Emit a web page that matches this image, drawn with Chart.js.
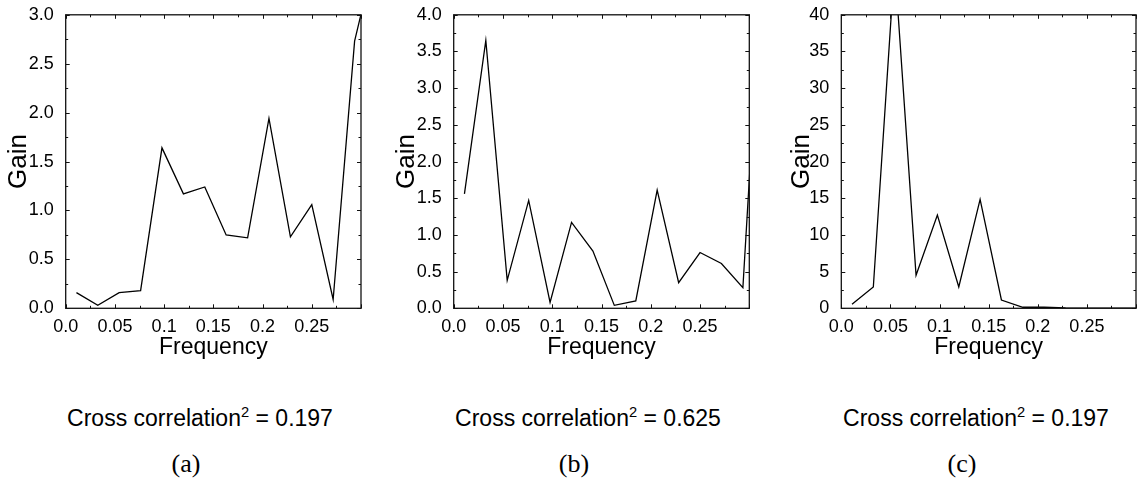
<!DOCTYPE html>
<html>
<head>
<meta charset="utf-8">
<title>Gain spectra</title>
<script src="https://cdn.jsdelivr.net/npm/chart.js@4.4.1/dist/chart.umd.min.js"></script>
<style>
  html, body { margin: 0; padding: 0; background: #fff; overflow: hidden; }
  #fig { position: relative; width: 1144px; height: 483px; }
  .panel { position: absolute; top: 0; }
  .caption {
    position: absolute; top: 407px; color: #000; white-space: nowrap;
    font: 23px/23px "Liberation Sans", Arial, sans-serif;
    transform: translateX(-50%);
  }
  .caption .sq { position: relative; top: -0.6em; font-size: 0.64em; }
  .sublabel {
    position: absolute; top: 451px; color: #000;
    font: 26px/26px "Liberation Serif", "Times New Roman", serif;
    transform: translateX(-50%);
  }
</style>
</head>
<body>
<div id="fig">
  <canvas id="gain-a" class="panel" style="left:0px" width="380" height="370"></canvas>
  <canvas id="gain-b" class="panel" style="left:380px" width="388" height="370"></canvas>
  <canvas id="gain-c" class="panel" style="left:768px" width="376" height="370"></canvas>

  <div class="caption" style="left:200px">Cross correlation<span class="sq">2</span> = <span class="cc">0.197</span></div>
  <div class="caption" style="left:588px">Cross correlation<span class="sq">2</span> = <span class="cc">0.625</span></div>
  <div class="caption" style="left:976px">Cross correlation<span class="sq">2</span> = <span class="cc">0.197</span></div>

  <div class="sublabel" style="left:186px">(a)</div>
  <div class="sublabel" style="left:574px">(b)</div>
  <div class="sublabel" style="left:962px">(c)</div>
</div>
<script>
// frequency bins shared by all three spectra (last one lies past the axis end)
const frequency = [0.0109, 0.0326, 0.0543, 0.0761, 0.0978, 0.1196, 0.1413, 0.1630,
                   0.1848, 0.2065, 0.2283, 0.2500, 0.2717, 0.2935, 0.3152];

const gainA = [0.16, 0.03, 0.16, 0.18, 1.64, 1.17, 1.24, 0.75, 0.72, 1.94, 0.73, 1.06, 0.09, 2.73, 3.65];
const gainB = [1.56, 3.65, 0.38, 1.47, 0.08, 1.17, 0.78, 0.04, 0.10, 1.61, 0.35, 0.76, 0.61, 0.28, 5.2];
const gainC = [0.55, 2.9, 47, 4.5, 12.7, 2.9, 14.85, 1.13, 0.14, 0.15, 0.05, 0.02, 0.02, 0.02, 0.05];

const xTickValues = [0, 0.05, 0.1, 0.15, 0.2, 0.25];
const xTickLabels = ["0.0", "0.05", "0.1", "0.15", "0.2", "0.25"];

const yTicksSmall = [0, 0.5, 1, 1.5, 2, 2.5, 3];
const yLabelsSmall = ["0.0", "0.5", "1.0", "1.5", "2.0", "2.5", "3.0"];
const yTicksMid = [0, 0.5, 1, 1.5, 2, 2.5, 3, 3.5, 4];
const yLabelsMid = ["0.0", "0.5", "1.0", "1.5", "2.0", "2.5", "3.0", "3.5", "4.0"];
const yTicksBig = [0, 5, 10, 15, 20, 25, 30, 35, 40];
const yLabelsBig = ["0", "5", "10", "15", "20", "25", "30", "35", "40"];

const FAMILY = '"Liberation Sans", Arial, sans-serif';

// box around the plot area with small inward ticks on all four sides
const frameTicks = {
  id: "frameTicks",
  afterDraw(chart, args, opts) {
    const { ctx, chartArea: a, scales: { x, y } } = chart;
    ctx.save();
    ctx.strokeStyle = "#111";
    ctx.lineWidth = 1;
    ctx.beginPath();
    const along = (scale, step, majorEvery, draw) => {
      const n = Math.round((scale.max - scale.min) / step);
      for (let i = 0; i <= n; i++) {
        const p = Math.round(scale.getPixelForValue(scale.min + i * step)) + 0.5;
        draw(p, i % majorEvery === 0 ? 4 : 2.5);
      }
    };
    along(x, opts.xMinor, 2, (p, len) => {
      ctx.moveTo(p, a.bottom); ctx.lineTo(p, a.bottom - len);
      ctx.moveTo(p, a.top); ctx.lineTo(p, a.top + len);
    });
    along(y, opts.yMinor, 2, (p, len) => {
      ctx.moveTo(a.left, p); ctx.lineTo(a.left + len, p);
      ctx.moveTo(a.right, p); ctx.lineTo(a.right - len, p);
    });
    ctx.stroke();
    ctx.lineWidth = 1.3;
    ctx.strokeRect(a.left, a.top, a.right - a.left, a.bottom - a.top);
    ctx.restore();
  },
};

function gainChart(id, gains, yMax, yTicks, yLabels, yMinor, yWidth, pad) {
  return new Chart(document.getElementById(id), {
    type: "line",
    data: {
      datasets: [{
        data: frequency.map((f, i) => ({ x: f, y: gains[i] })),
        borderColor: "#000",
        borderWidth: 1.3,
        pointRadius: 0,
        tension: 0,
        clip: 0,
      }],
    },
    options: {
      responsive: false,
      animation: false,
      events: [],
      layout: { padding: pad },
      plugins: {
        legend: { display: false },
        tooltip: { enabled: false },
        frameTicks: { xMinor: 0.025, yMinor },
      },
      scales: {
        x: {
          type: "linear", min: 0, max: 0.3,
          grid: { display: false }, border: { display: false },
          afterBuildTicks: (s) => { s.ticks = xTickValues.map((v) => ({ value: v })); },
          ticks: {
            padding: 0, color: "#000", maxRotation: 0, autoSkip: false,
            font: { family: FAMILY, size: 18 },
            callback: (v, i) => xTickLabels[i],
          },
          title: { display: true, text: "Frequency", color: "#000", padding: 0, font: { family: FAMILY, size: 23 } },
          afterFit: (s) => { s.height = 52.7; s.paddingLeft = 0; s.paddingRight = 0; },
        },
        y: {
          type: "linear", min: 0, max: yMax,
          grid: { display: false }, border: { display: false },
          afterBuildTicks: (s) => { s.ticks = yTicks.map((v) => ({ value: v })); },
          ticks: {
            padding: 4, color: "#000", autoSkip: false,
            font: { family: FAMILY, size: 18 },
            callback: (v, i) => yLabels[i],
          },
          title: { display: true, text: "Gain", color: "#000", padding: 0, font: { family: FAMILY, size: 26 } },
          afterFit: (s) => { s.width = yWidth; },
        },
      },
    },
    plugins: [frameTicks],
  });
}

gainChart("gain-a", gainA, 3, yTicksSmall, yLabelsSmall, 0.25, 62.7, { left: 3, right: 19, top: 14, bottom: 9 });
gainChart("gain-b", gainB, 4, yTicksMid, yLabelsMid, 0.25, 62, { left: 11.7, right: 18.7, top: 14, bottom: 9 });
gainChart("gain-c", gainC, 40, yTicksBig, yLabelsBig, 2.5, 55.5, { left: 17.8, right: 8, top: 14, bottom: 9 });
</script>
</body>
</html>
